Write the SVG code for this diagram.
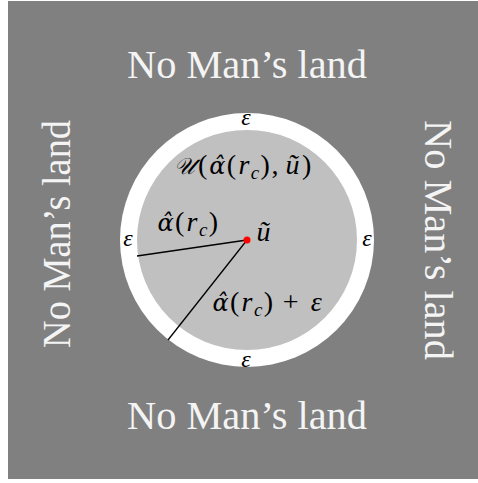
<svg xmlns="http://www.w3.org/2000/svg" width="478" height="483" viewBox="0 0 478 483">
<style>
.nml{font-size:39px;fill:#f4f4f4}
.m{font-style:italic;font-size:28px;fill:#000}
.up{font-style:normal}
.al{font-family:'DejaVu Serif',serif;font-size:24px}
.sub{font-size:19px}
.cal{font-size:23px}
.eps{font-style:italic;font-size:24px;fill:#000;text-anchor:middle}
</style>
<rect x="0" y="0" width="478" height="483" fill="#ffffff"/>
<rect id="background" x="8" y="1" width="470" height="478" fill="#808080"/>
<g id="region">
<circle cx="247" cy="240" r="127" fill="#ffffff"/>
<circle cx="247" cy="240" r="110" fill="#c0c0c0"/>
</g>
<g id="labels-nml" font-family="'Liberation Serif', 'Times New Roman', serif">
<text class="nml" x="127" y="78" textLength="240" lengthAdjust="spacingAndGlyphs">No Man’s land</text>
<text class="nml" x="127" y="429" textLength="240" lengthAdjust="spacingAndGlyphs">No Man’s land</text>
<text class="nml" transform="translate(70,348) rotate(-90)" x="0" y="0" textLength="228" lengthAdjust="spacingAndGlyphs">No Man’s land</text>
<text class="nml" transform="translate(425,120) rotate(90)" x="0" y="0" textLength="240" lengthAdjust="spacingAndGlyphs">No Man’s land</text>
</g>
<g id="connectors" stroke="#000" stroke-width="1.3">
<line x1="247" y1="240" x2="137" y2="256"/>
<line x1="247" y1="240" x2="168" y2="340"/>
</g>
<g id="center">
<circle cx="247" cy="240" r="3.5" fill="#ff0000"/>
</g>
<g id="math" font-family="'Liberation Serif', 'Times New Roman', serif">
<text class="m" id="label-U"><tspan class="cal" x="174" y="174">𝒰</tspan><tspan class="up" x="198" y="174">(</tspan><tspan class="al" x="209.2" y="174">α̂</tspan><tspan class="up" x="226.8" y="174">(</tspan><tspan x="238.4" y="174">r</tspan><tspan class="sub" x="250.8" y="179">c</tspan><tspan class="up" x="260.5" y="174">)</tspan><tspan class="up" x="271.5" y="174">,</tspan><tspan x="285.5" y="174">ũ</tspan><tspan class="up" x="302" y="174">)</tspan></text>
<text class="m" id="label-alpha"><tspan class="al" x="157.4" y="231">α̂</tspan><tspan class="up" x="175" y="231">(</tspan><tspan x="186.6" y="231">r</tspan><tspan class="sub" x="199" y="236">c</tspan><tspan class="up" x="208.7" y="231">)</tspan></text>
<text class="m" id="label-u" x="256.5" y="241">ũ</text>
<text class="m" id="label-alpha-eps"><tspan class="al" x="212.4" y="311">α̂</tspan><tspan class="up" x="230" y="311">(</tspan><tspan x="241.6" y="311">r</tspan><tspan class="sub" x="254" y="316">c</tspan><tspan class="up" x="263.7" y="311">)</tspan><tspan class="up" x="282.7" y="311">+</tspan><tspan x="310.8" y="311">ε</tspan></text>
</g>
<g id="eps" font-family="'Liberation Serif', 'Times New Roman', serif">
<text class="eps" x="246" y="125">ε</text>
<text class="eps" x="246" y="367">ε</text>
<text class="eps" x="128" y="246">ε</text>
<text class="eps" x="367" y="246">ε</text>
</g>
</svg>
